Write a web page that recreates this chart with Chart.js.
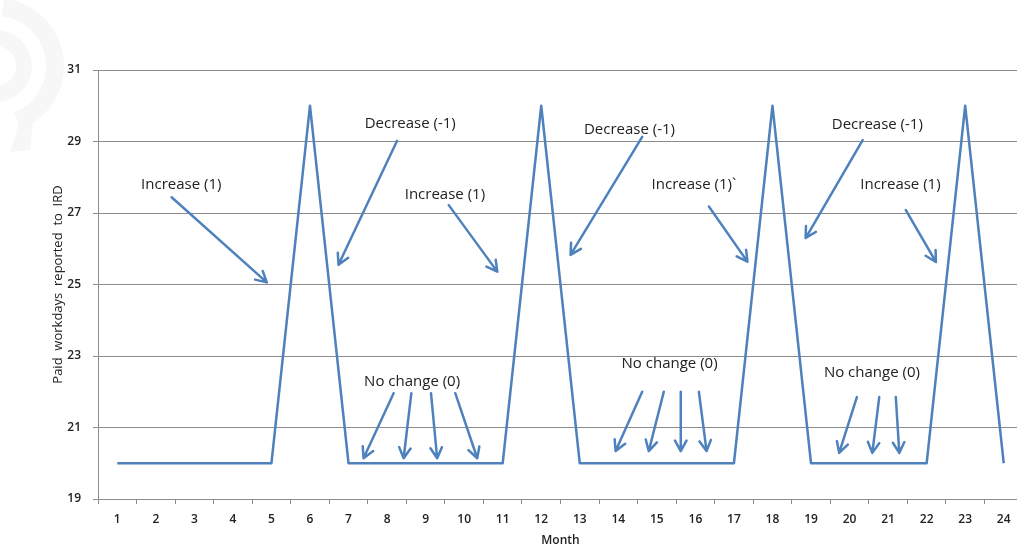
<!DOCTYPE html>
<html>
<head>
<meta charset="utf-8">
<script src="https://cdn.jsdelivr.net/npm/chart.js@4.4.1/dist/chart.umd.min.js"></script>
<style>
  html, body { margin: 0; padding: 0; background: #fff; overflow: hidden; width: 1017px; height: 548px; }
  #wrap { position: absolute; left: 0; top: 0; width: 1023px; height: 548px; }
</style>
</head>
<body>
<div id="wrap"><canvas id="c"></canvas></div>
<script>
// Months along the x axis
const months = ['1','2','3','4','5','6','7','8','9','10','11','12','13','14','15','16','17','18','19','20','21','22','23','24'];
// Paid workdays reported for each month
const workdays = [20,20,20,20,20,30,20,20,20,20,20,30,20,20,20,20,20,30,20,20,20,20,30,20];
// Value axis ticks
const yTicks = [19,21,23,25,27,29,31];

// Callout labels: text, month position, value position
const noteText  = ['Increase (1)','Decrease (-1)','Increase (1)','Decrease (-1)','Increase (1)`','Decrease (-1)','Increase (1)','No change (0)','No change (0)','No change (0)'];
const noteMonth = [2.66, 8.60, 9.50, 14.29, 15.96, 20.72, 21.32, 8.65, 15.33, 20.58];
const noteValue = [27.80, 29.49, 27.50, 29.34, 27.78, 29.46, 27.78, 22.28, 22.78, 22.53];

// Callout arrows: [fromMonth, fromValue, toMonth, toValue]
const arrows = [
  [2.41, 27.44, 4.88, 25.06],
  [8.26, 29.02, 6.74, 25.55],
  [9.60, 27.22, 10.86, 25.36],
  [14.62, 29.13, 12.76, 25.83],
  [16.35, 27.18, 17.35, 25.64],
  [20.34, 29.04, 18.86, 26.30],
  [21.46, 27.08, 22.24, 25.63],
  [8.17, 21.96, 7.39, 20.14],
  [8.63, 21.96, 8.43, 20.14],
  [9.14, 21.96, 9.30, 20.14],
  [9.77, 21.96, 10.34, 20.14],
  [14.62, 22.00, 13.93, 20.34],
  [15.18, 22.00, 14.79, 20.34],
  [15.62, 22.00, 15.62, 20.34],
  [16.09, 22.00, 16.29, 20.34],
  [20.19, 21.85, 19.73, 20.29],
  [20.77, 21.85, 20.59, 20.29],
  [21.20, 21.85, 21.29, 20.29]
];

const LINE = '#4F81BD';
const GRID = '#8c8c8c';
const TEXT = '#222222';

// Faint logo mark in the upper-left corner
const logoMark = {
  id: 'logoMark',
  beforeDraw(chart) {
    const ctx = chart.ctx;
    ctx.save();
    ctx.fillStyle = '#f7f7f7';
    const cx = -4, cy = 66;
    ctx.beginPath();
    ctx.arc(cx, cy, 68, -1.45, 1.2, false);
    ctx.arc(cx, cy, 50, 1.2, -1.45, true);
    ctx.closePath();
    ctx.fill();
    ctx.beginPath();
    ctx.arc(cx, cy, 36, -1.5, 1.5, false);
    ctx.arc(cx, cy, 20, 1.5, -1.5, true);
    ctx.closePath();
    ctx.fill();
    ctx.beginPath();
    ctx.moveTo(18, 126);
    ctx.lineTo(34, 112);
    ctx.lineTo(30, 150);
    ctx.lineTo(10, 152);
    ctx.closePath();
    ctx.fill();
    ctx.restore();
  }
};

// Callout arrows and their labels, placed through the chart scales
const callouts = {
  id: 'callouts',
  afterDatasetsDraw(chart) {
    const { ctx, scales: { x, y } } = chart;
    ctx.save();
    ctx.strokeStyle = LINE;
    ctx.lineWidth = 2.5;
    ctx.lineCap = 'round';
    ctx.lineJoin = 'round';
    arrows.forEach(([m1, v1, m2, v2]) => {
      const x1 = x.getPixelForValue(m1 - 1), y1 = y.getPixelForValue(v1);
      const x2 = x.getPixelForValue(m2 - 1), y2 = y.getPixelForValue(v2);
      const a = Math.atan2(y2 - y1, x2 - x1);
      const len = 12, spread = 0.5;
      ctx.beginPath();
      ctx.moveTo(x1, y1);
      ctx.lineTo(x2, y2);
      ctx.moveTo(x2 - len * Math.cos(a - spread), y2 - len * Math.sin(a - spread));
      ctx.lineTo(x2, y2);
      ctx.lineTo(x2 - len * Math.cos(a + spread), y2 - len * Math.sin(a + spread));
      ctx.stroke();
    });
    ctx.fillStyle = TEXT;
    ctx.font = '15px "Open Sans"';
    ctx.textAlign = 'center';
    ctx.textBaseline = 'middle';
    noteText.forEach((t, i) => {
      ctx.fillText(t, x.getPixelForValue(noteMonth[i] - 1), y.getPixelForValue(noteValue[i]));
    });
    ctx.restore();
  }
};

new Chart(document.getElementById('c'), {
  type: 'line',
  data: {
    labels: months,
    datasets: [{
      data: workdays,
      borderColor: LINE,
      borderWidth: 2.5,
      borderJoinStyle: 'round',
      pointRadius: 0,
      tension: 0,
      fill: false
    }]
  },
  options: {
    responsive: true,
    maintainAspectRatio: false,
    animation: false,
    devicePixelRatio: 1,
    layout: { padding: { top: 70, left: 0, right: 0, bottom: 0 } },
    plugins: { legend: { display: false }, tooltip: { enabled: false } },
    scales: {
      x: {
        offset: true,
        afterFit(s) { s.height = 49; },
        grid: { offset: true, drawOnChartArea: false, drawTicks: true, tickLength: 5, color: GRID },
        border: { display: true, color: GRID, width: 1 },
        ticks: { color: TEXT, font: { family: 'Open Sans', size: 12, weight: '600' }, padding: 8, maxRotation: 0, autoSkip: false },
        title: { display: true, text: 'Month', color: TEXT, font: { family: 'Open Sans', size: 12, weight: '600' }, padding: { top: 0, bottom: 0 } }
      },
      y: {
        min: 19,
        max: 31,
        afterBuildTicks(s) { s.ticks = yTicks.map(v => ({ value: v })); },
        afterFit(s) { s.width = 98; },
        grid: { color: GRID, lineWidth: 1, tickLength: 5 },
        border: { display: true, color: GRID, width: 1 },
        ticks: { color: TEXT, font: { family: 'Open Sans', size: 12, weight: '600' }, padding: 12 },
        title: { display: true, text: 'Paid  workdays  reported  to  IRD', color: TEXT, font: { family: 'Open Sans', size: 13 }, padding: { top: 50, bottom: 0 } }
      }
    }
  },
  plugins: [logoMark, callouts]
});
</script>
</body>
</html>
